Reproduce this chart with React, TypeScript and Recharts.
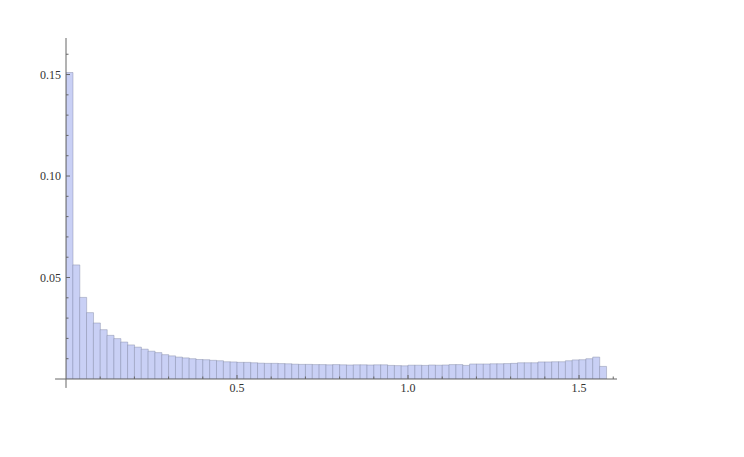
import {
  BarChart,
  Bar,
  XAxis,
  YAxis,
  ReferenceLine,
} from "recharts";

// bin width 0.02, bins start at 0
const binStarts = Array.from({ length: 79 }, (_, i) => +(i * 0.02).toFixed(2));

// fraction of samples in each bin
const binValues = [
  0.151, 0.0562, 0.0402, 0.0327, 0.0276, 0.0243, 0.0215, 0.0199, 0.0182, 0.0168,
  0.0157, 0.0147, 0.0137, 0.013, 0.012, 0.0114, 0.0108, 0.0104, 0.01, 0.0096,
  0.0095, 0.0092, 0.009, 0.0085, 0.0084, 0.0082, 0.0082, 0.008, 0.0078, 0.0077,
  0.0077, 0.0076, 0.0075, 0.0073, 0.0072, 0.0072, 0.0071, 0.0071, 0.007, 0.0071,
  0.007, 0.0069, 0.007, 0.007, 0.0069, 0.007, 0.007, 0.0067, 0.0066, 0.0065,
  0.0068, 0.0068, 0.0067, 0.0069, 0.0068, 0.0069, 0.0071, 0.0071, 0.0067, 0.0074,
  0.0074, 0.0074, 0.0075, 0.0075, 0.0076, 0.0077, 0.008, 0.008, 0.008, 0.0084,
  0.0084, 0.0085, 0.0085, 0.009, 0.0094, 0.0095, 0.01, 0.0108, 0.0062,
];

const xTicks = [0.1, 0.2, 0.3, 0.4, 0.5, 0.6, 0.7, 0.8, 0.9, 1.0, 1.1, 1.2, 1.3, 1.4, 1.5, 1.6];
const xMajor = [0.5, 1.0, 1.5];
const yTicks = [
  0.01, 0.02, 0.03, 0.04, 0.05, 0.06, 0.07, 0.08, 0.09, 0.1, 0.11, 0.12, 0.13,
  0.14, 0.15, 0.16,
];
const yMajor = [0.05, 0.1, 0.15];

const data = binStarts.map((s, i) => ({ x: s + 0.01, p: binValues[i] }));

const AXIS = "#666";
const FONT = "Liberation Serif";

const isMajor = (list: number[], v: number) => list.some((m) => Math.abs(m - v) < 1e-9);

const XTick = ({ x, y, payload }: any) => {
  const major = isMajor(xMajor, payload.value);
  const base = y - 4;
  return (
    <g>
      <line x1={x} x2={x} y1={base} y2={base - (major ? 4 : 2.5)} stroke={AXIS} strokeWidth={1} />
      {major && (
        <text x={x} y={base + 13} textAnchor="middle" fontSize={12} fontFamily={FONT} fill="#333">
          {payload.value.toFixed(1)}
        </text>
      )}
    </g>
  );
};

const YTick = ({ x, y, payload }: any) => {
  const major = isMajor(yMajor, payload.value);
  const axisX = x + 5;
  return (
    <g>
      <line x1={axisX} x2={axisX + (major ? 4 : 2.5)} y1={y} y2={y} stroke={AXIS} strokeWidth={1} />
      {major && (
        <text x={x} y={y + 4} textAnchor="end" fontSize={12} fontFamily={FONT} fill="#333">
          {payload.value.toFixed(2)}
        </text>
      )}
    </g>
  );
};

export default function App() {
  return (
    <div style={{ position: "absolute", left: 0, top: 0, width: 744, height: 457, background: "#fff" }}>
      <BarChart
        width={744}
        height={457}
        data={data}
        margin={{ top: 38, right: 127, bottom: 48, left: 0 }}
        barCategoryGap={0}
        barGap={0}
      >
        <XAxis
          dataKey="x"
          type="number"
          domain={[0, 1.611]}
          ticks={xTicks}
          tick={<XTick />}
          tickSize={0}
          tickMargin={4}
          axisLine={false}
          tickLine={false}
          height={30}
          interval={0}
          allowDataOverflow
        />
        <YAxis
          type="number"
          domain={[0, 0.168]}
          ticks={yTicks}
          tick={<YTick />}
          tickSize={0}
          tickMargin={5}
          axisLine={false}
          tickLine={false}
          width={66}
          interval={0}
          allowDataOverflow
        />
        <Bar
          dataKey="p"
          fill="#c9d0f5"
          stroke="#7d82a0"
          strokeOpacity={0.42}
          strokeWidth={1}
          isAnimationActive={false}
        />
        <ReferenceLine
          segment={[{ x: -0.032, y: 0 }, { x: 1.611, y: 0 }]}
          stroke={AXIS}
          strokeWidth={1}
          ifOverflow="visible"
        />
        <ReferenceLine
          segment={[{ x: 0, y: -0.0044 }, { x: 0, y: 0.168 }]}
          stroke={AXIS}
          strokeWidth={1}
          ifOverflow="visible"
        />
      </BarChart>
    </div>
  );
}
